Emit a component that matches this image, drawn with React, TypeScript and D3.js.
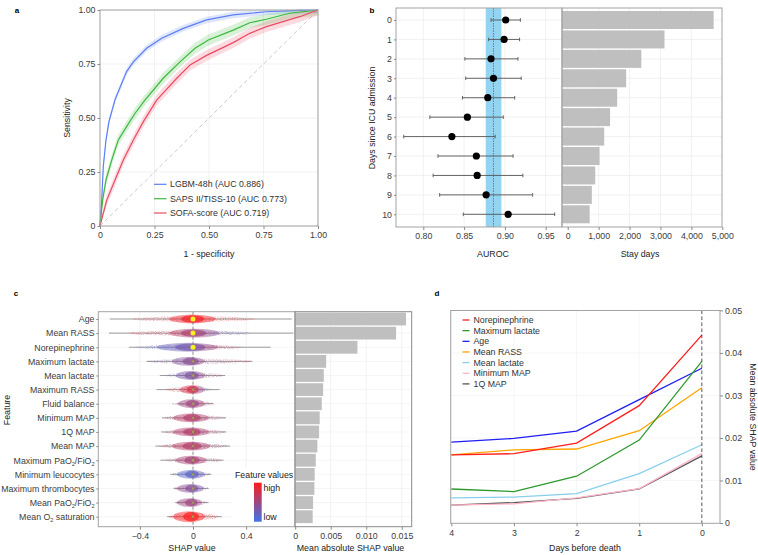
import { useEffect, useRef } from 'react';
import * as d3 from 'd3';

// ---- a: ROC curves (1 - specificity / sensitivity) ----
const lgbmFpr = [0, 0.008, 0.015, 0.0275, 0.041, 0.069, 0.122, 0.153, 0.214, 0.283, 0.382, 0.489, 0.611, 0.763, 0.916, 1];
const lgbmTpr = [0, 0.12, 0.275, 0.398, 0.483, 0.585, 0.715, 0.76, 0.823, 0.869, 0.915, 0.954, 0.977, 0.992, 0.998, 1];
const sapsFpr = [0, 0.012, 0.0275, 0.054, 0.084, 0.122, 0.161, 0.206, 0.29, 0.367, 0.436, 0.497, 0.611, 0.687, 0.763, 0.87, 1];
const sapsTpr = [0, 0.12, 0.213, 0.306, 0.398, 0.46, 0.522, 0.583, 0.684, 0.76, 0.823, 0.861, 0.907, 0.941, 0.957, 0.985, 1];
const sofaFpr = [0, 0.031, 0.069, 0.107, 0.153, 0.199, 0.26, 0.352, 0.413, 0.489, 0.611, 0.687, 0.763, 0.916, 1];
const sofaTpr = [0, 0.12, 0.213, 0.306, 0.398, 0.483, 0.583, 0.684, 0.745, 0.79, 0.849, 0.892, 0.923, 0.969, 1];
const rocNames = ['LGBM-48h (AUC 0.886)', 'SAPS II/TISS-10 (AUC 0.773)', 'SOFA-score (AUC 0.719)'];
const rocBand = [0.015, 0.025, 0.025];

// ---- b: AUROC per day since admission + stay days ----
const admitDays = [0, 1, 2, 3, 4, 5, 6, 7, 8, 9, 10];
const aurocMean = [0.901, 0.899, 0.883, 0.886, 0.879, 0.854, 0.835, 0.865, 0.866, 0.877, 0.904];
const aurocLow = [0.883, 0.880, 0.851, 0.852, 0.848, 0.808, 0.776, 0.818, 0.812, 0.820, 0.849];
const aurocHigh = [0.919, 0.918, 0.916, 0.920, 0.912, 0.898, 0.888, 0.910, 0.922, 0.934, 0.961];
const overallAuroc = [0.8765, 0.886, 0.8957]; // low, estimate, high
const stayDays = [4720, 3130, 2380, 1890, 1600, 1370, 1180, 1030, 890, 780, 710];

// ---- c: SHAP summary ----
const features = ['Age', 'Mean RASS', 'Norepinephrine', 'Maximum lactate', 'Mean lactate', 'Maximum RASS',
  'Fluid balance', 'Minimum MAP', '1Q MAP', 'Mean MAP', 'Maximum PaO2/FiO2', 'Minimum leucocytes',
  'Maximum thrombocytes', 'Mean PaO2/FiO2', 'Mean O2 saturation'];
const meanAbsShap = [0.0156, 0.0142, 0.00876, 0.00436, 0.00402, 0.00393, 0.00374, 0.00345, 0.00336, 0.00312,
  0.00289, 0.00274, 0.0027, 0.00251, 0.00246];
const shapMin = [-0.626, -0.633, -0.483, -0.35, -0.25, -0.275, -0.12, -0.233, -0.24, -0.283, -0.245, -0.17, -0.146, -0.133, -0.195];
const shapMax = [0.743, 0.755, 0.585, 0.447, 0.242, 0.2, 0.155, 0.248, 0.25, 0.28, 0.23, 0.137, 0.117, 0.117, 0.218];
const tailLo = [-0.458, -0.483, -0.433, -0.345, -0.208, -0.208, -0.158, -0.22, -0.22, -0.258, -0.208, -0.158, -0.146, -0.133, -0.183];
const tailHi = [0.468, 0.443, 0.368, 0.443, 0.23, 0.143, 0.155, 0.242, 0.242, 0.267, 0.218, 0.13, 0.117, 0.105, 0.192];
const coreLo = [-0.18, -0.18, -0.27, -0.16, -0.13, -0.1, -0.11, -0.15, -0.15, -0.16, -0.13, -0.12, -0.12, -0.12, -0.15];
const coreHi = [0.17, 0.2, 0.19, 0.09, 0.09, 0.09, 0.09, 0.12, 0.12, 0.13, 0.1, 0.09, 0.08, 0.07, 0.09];
// normalised feature value on the negative side, at zero and on the positive side (0 = low, 1 = high)
const toneLeft = [0.75, 0.9, 0.1, 0.3, 0.25, 0.85, 0.5, 0.65, 0.65, 0.7, 0.55, 0.15, 0.5, 0.5, 0.95];
const toneMid = [0.95, 0.55, 0.3, 0.4, 0.35, 0.75, 0.5, 0.6, 0.6, 0.6, 0.55, 0.15, 0.35, 0.5, 1];
const toneRight = [0.95, 0.1, 0.85, 0.75, 0.6, 0.15, 0.55, 0.55, 0.55, 0.55, 0.6, 0.3, 0.25, 0.5, 0.95];

// ---- d: mean |SHAP| before death ----
const daysBeforeDeath = [4, 3, 2, 1, 0];
const trendNames = ['Norepinephrine', 'Maximum lactate', 'Age', 'Mean RASS', 'Mean lactate', 'Minimum MAP', '1Q MAP'];
const norepinephrine = [0.016, 0.0163, 0.0188, 0.0276, 0.0442];
const maximumLactate = [0.008, 0.0074, 0.011, 0.0195, 0.038];
const age = [0.019, 0.0199, 0.0216, 0.029, 0.0364];
const meanRass = [0.016, 0.0172, 0.0174, 0.0217, 0.0318];
const meanLactate = [0.0059, 0.0061, 0.0069, 0.0116, 0.0184];
const minimumMap = [0.0042, 0.0045, 0.0059, 0.0081, 0.0163];
const q1Map = [0.0042, 0.0048, 0.0058, 0.008, 0.0158];

const FONT = "'Liberation Sans', Arial, Helvetica, sans-serif";

const App = () => {
  const ref = useRef<SVGSVGElement>(null);

  useEffect(() => {
    const svg = d3.select(ref.current);
    svg.selectAll('*').remove();

    const frameCol = '#a3a3a3';
    const gridCol = '#ededed';
    const tickCol = '#3c3c3c';
    const fs = 8.8;

    const txt = (x, y, s, anchor = 'middle', size = fs, col = '#222', weight = 'normal') =>
      svg.append('text').attr('x', x).attr('y', y).attr('text-anchor', anchor)
        .attr('font-family', FONT).attr('font-size', size).attr('fill', col).attr('font-weight', weight).text(s);
    const vtxt = (x, y, s, rot = -90) =>
      svg.append('text').attr('transform', `translate(${x},${y}) rotate(${rot})`).attr('text-anchor', 'middle')
        .attr('dy', '0.35em').attr('font-family', FONT).attr('font-size', fs).attr('fill', '#222').text(s);
    const frame = (x0, y0, x1, y1, col = frameCol) =>
      svg.append('rect').attr('x', x0).attr('y', y0).attr('width', x1 - x0).attr('height', y1 - y0)
        .attr('fill', 'none').attr('stroke', col).attr('stroke-width', 1);
    const styleAxis = (g) => {
      g.attr('font-family', FONT).attr('font-size', fs);
      g.select('.domain').remove();
      g.selectAll('line').attr('stroke', '#8a8a8a');
      g.selectAll('text').attr('fill', tickCol);
    };
    const vgrid = (scale, ticks, y0, y1, col = gridCol) => ticks.forEach(t => svg.append('line')
      .attr('x1', scale(t)).attr('x2', scale(t)).attr('y1', y0).attr('y2', y1).attr('stroke', col).attr('stroke-width', 0.8));
    const hgrid = (ys, x0, x1, col = gridCol) => ys.forEach(y => svg.append('line')
      .attr('x1', x0).attr('x2', x1).attr('y1', y).attr('y2', y).attr('stroke', col).attr('stroke-width', 0.8));

    // panel letters
    txt(17, 13, 'a', 'middle', 8, '#000', 'bold');
    txt(372, 13, 'b', 'middle', 8, '#000', 'bold');
    txt(16, 296, 'c', 'middle', 8, '#000', 'bold');
    txt(437, 296, 'd', 'middle', 8, '#000', 'bold');

    // ================= a =================
    const ax = d3.scaleLinear().domain([0, 1]).range([100, 318]);
    const ay = d3.scaleLinear().domain([0, 1]).range([226, 10]);
    const rocTicks = [0, 0.25, 0.5, 0.75, 1];
    const rocFmt = d => (d === 0 ? '0' : d3.format('.2f')(d));
    vgrid(ax, rocTicks, 10, 226);
    hgrid(rocTicks.map(ay), 100, 318);
    svg.append('line').attr('x1', ax(0)).attr('y1', ay(0)).attr('x2', ax(1)).attr('y2', ay(1))
      .attr('stroke', '#c9c9c9').attr('stroke-width', 1).attr('stroke-dasharray', '4,3');

    const rocSets = [[lgbmFpr, lgbmTpr], [sapsFpr, sapsTpr], [sofaFpr, sofaTpr]];
    const rocCols = ['#5b7ff2', '#3db83d', '#ea4b63'];
    rocSets.forEach(([fpr, tpr], k) => {
      const pts = fpr.map((f, i) => ({ f, t: tpr[i] }));
      const band = rocBand[k];
      svg.append('path').datum(pts)
        .attr('d', d3.area().x(d => ax(d.f)).y0(d => ay(Math.max(0, d.t - band))).y1(d => ay(Math.min(1, d.t + band))))
        .attr('fill', rocCols[k]).attr('fill-opacity', 0.2);
    });
    rocSets.forEach(([fpr, tpr], k) => {
      const pts = fpr.map((f, i) => ({ f, t: tpr[i] }));
      svg.append('path').datum(pts).attr('d', d3.line().x(d => ax(d.f)).y(d => ay(d.t)))
        .attr('fill', 'none').attr('stroke', rocCols[k]).attr('stroke-width', 1.2);
    });
    frame(100, 10, 318, 226);
    svg.append('g').attr('transform', 'translate(0,226)')
      .call(d3.axisBottom(ax).tickValues(rocTicks).tickFormat(rocFmt).tickSize(3).tickPadding(3)).call(styleAxis);
    svg.append('g').attr('transform', 'translate(100,0)')
      .call(d3.axisLeft(ay).tickValues(rocTicks).tickFormat(rocFmt).tickSize(2.5).tickPadding(2)).call(styleAxis);
    txt(209, 257, '1 - specificity');
    vtxt(67, 118, 'Sensitivity');
    const legY = [184.3, 198.7, 213];
    rocNames.forEach((n, k) => {
      svg.append('line').attr('x1', 154).attr('x2', 166.5).attr('y1', legY[k]).attr('y2', legY[k])
        .attr('stroke', rocCols[k]).attr('stroke-width', 1.2);
      txt(170, legY[k] + 3, n, 'start', fs, '#333');
    });

    // ================= b =================
    const bx = d3.scaleLinear().domain([0.7665, 0.97]).range([396, 562]);
    const by = d3.scalePoint().domain(admitDays.map(String)).range([20, 214.3]);
    const sx = d3.scaleLinear().domain([-185, 4990]).range([562, 722]);
    const bTop = 8, bBot = 227;
    vgrid(bx, [0.8, 0.85, 0.9, 0.95], bTop, bBot);
    vgrid(sx, [0, 1000, 2000, 3000, 4000], bTop, bBot);
    hgrid(admitDays.map(d => by(String(d))), 396, 722);
    svg.append('rect').attr('x', bx(overallAuroc[0])).attr('y', bTop)
      .attr('width', bx(overallAuroc[2]) - bx(overallAuroc[0])).attr('height', bBot - bTop)
      .attr('fill', '#93d4f0');
    svg.append('line').attr('x1', bx(overallAuroc[1])).attr('x2', bx(overallAuroc[1])).attr('y1', bTop).attr('y2', bBot)
      .attr('stroke', '#6a7780').attr('stroke-width', 0.9).attr('stroke-dasharray', '1.5,1');
    admitDays.forEach((d, i) => {
      const y = by(String(d));
      const g = svg.append('g').attr('stroke', '#555').attr('stroke-width', 0.9);
      g.append('line').attr('x1', bx(aurocLow[i])).attr('x2', bx(aurocHigh[i])).attr('y1', y).attr('y2', y);
      g.append('line').attr('x1', bx(aurocLow[i])).attr('x2', bx(aurocLow[i])).attr('y1', y - 1.8).attr('y2', y + 1.8);
      g.append('line').attr('x1', bx(aurocHigh[i])).attr('x2', bx(aurocHigh[i])).attr('y1', y - 1.8).attr('y2', y + 1.8);
      svg.append('circle').attr('cx', bx(aurocMean[i])).attr('cy', y).attr('r', 3.6).attr('fill', '#000');
      svg.append('rect').attr('x', 562).attr('y', y - 9).attr('width', sx(stayDays[i]) - 562).attr('height', 18)
        .attr('fill', '#bfbfbf');
    });
    frame(396, bTop, 562, bBot);
    frame(562, bTop, 722, bBot);
    svg.append('g').attr('transform', `translate(0,${bBot})`)
      .call(d3.axisBottom(bx).tickValues([0.8, 0.85, 0.9, 0.95]).tickFormat(d3.format('.2f')).tickSize(3).tickPadding(3)).call(styleAxis);
    svg.append('g').attr('transform', `translate(0,${bBot})`)
      .call(d3.axisBottom(sx).tickValues([0, 1000, 2000, 3000, 4000, 5000]).tickFormat(d3.format(',')).tickSize(3).tickPadding(3)).call(styleAxis);
    svg.append('g').attr('transform', 'translate(396,0)')
      .call(d3.axisLeft(by).tickSize(2).tickPadding(2)).call(styleAxis);
    txt(493, 257, 'AUROC');
    txt(640, 257, 'Stay days');
    vtxt(372, 118, 'Days since ICU admission');

    // ================= c =================
    const cx = d3.scaleLinear().domain([-0.713, 0.768]).range([98.3, 295]);
    const cy = d3.scalePoint().domain(features).range([319, 516.7]);
    const mx = d3.scaleLinear().domain([-0.00003, 0.0164]).range([295, 411.7]);
    const cTop = 311.7, cBot = 526.7;
    const tone = d3.scaleLinear<string>().domain([0, 1]).range(['#3f74e6', '#ff1a1a']).interpolate(d3.interpolateRgb);
    vgrid(cx, [-0.4, 0, 0.4], cTop, cBot);
    vgrid(mx, [0.005, 0.01, 0.015], cTop, cBot);
    hgrid(features.map(f => cy(f)), 98.3, 411.7, '#f3f3f3');

    const defs = svg.append('defs');
    // grainy texture so the swarm reads as a cloud of many small points
    const speckle = defs.append('filter').attr('id', 'speckle').attr('x', 0).attr('y', 0).attr('width', 1).attr('height', 1);
    speckle.append('feTurbulence').attr('type', 'fractalNoise').attr('baseFrequency', 1.1).attr('numOctaves', 1).attr('seed', 3).attr('result', 'noise');
    speckle.append('feColorMatrix').attr('in', 'noise').attr('type', 'matrix')
      .attr('values', '0 0 0 0 0  0 0 0 0 0  0 0 0 0 0  0 0 0 -3 1.9').attr('result', 'mask');
    speckle.append('feComposite').attr('in', 'SourceGraphic').attr('in2', 'mask').attr('operator', 'in');

    features.forEach((f, i) => {
      const y = cy(f);
      svg.append('line').attr('x1', cx(shapMin[i])).attr('x2', cx(shapMax[i])).attr('y1', y).attr('y2', y)
        .attr('stroke', '#6f6f6f').attr('stroke-width', 0.8).attr('stroke-opacity', 0.85);
      const gid = `swarm${i}`;
      const lg = defs.append('linearGradient').attr('id', gid).attr('gradientUnits', 'userSpaceOnUse')
        .attr('x1', cx(tailLo[i])).attr('x2', cx(tailHi[i])).attr('y1', 0).attr('y2', 0);
      const zeroAt = (0 - tailLo[i]) / (tailHi[i] - tailLo[i]);
      lg.append('stop').attr('offset', 0).attr('stop-color', tone(toneLeft[i]));
      lg.append('stop').attr('offset', zeroAt).attr('stop-color', tone(toneMid[i]));
      lg.append('stop').attr('offset', 1).attr('stop-color', tone(toneRight[i]));
      const h = i === features.length - 1 ? 5.5 : 4.4;
      const sw = svg.append('g');
      // sparse outer tail
      sw.append('ellipse').attr('cx', (cx(tailLo[i]) + cx(tailHi[i])) / 2).attr('cy', y)
        .attr('rx', (cx(tailHi[i]) - cx(tailLo[i])) / 2).attr('ry', h * 0.6)
        .attr('fill', `url(#${gid})`).attr('fill-opacity', 0.38).attr('filter', 'url(#speckle)');
      // dense core
      sw.append('ellipse').attr('cx', (cx(coreLo[i]) + cx(coreHi[i])) / 2).attr('cy', y)
        .attr('rx', (cx(coreHi[i]) - cx(coreLo[i])) / 2).attr('ry', h)
        .attr('fill', `url(#${gid})`).attr('fill-opacity', 0.45);
      sw.append('ellipse').attr('cx', (cx(coreLo[i] * 0.5) + cx(coreHi[i] * 0.5)) / 2).attr('cy', y)
        .attr('rx', (cx(coreHi[i] * 0.5) - cx(coreLo[i] * 0.5)) / 2).attr('ry', h * 0.85)
        .attr('fill', `url(#${gid})`).attr('fill-opacity', 0.7);
      svg.append('rect').attr('x', mx(0)).attr('y', y - 6.4).attr('width', mx(meanAbsShap[i]) - mx(0)).attr('height', 12.8)
        .attr('fill', '#bfbfbf');
    });
    svg.append('line').attr('x1', cx(0)).attr('x2', cx(0)).attr('y1', cTop).attr('y2', cBot)
      .attr('stroke', '#666').attr('stroke-width', 0.7).attr('stroke-dasharray', '3,2');
    features.forEach((f, i) => {
      const big = i < 3;
      svg.append('circle').attr('cx', cx(0)).attr('cy', cy(f)).attr('r', big ? 2.5 : 1.2)
        .attr('fill', big ? '#f5f020' : '#a8a040');
    });
    // feature value legend
    svg.append('rect').attr('x', 232).attr('y', 467).attr('width', 61).attr('height', 57).attr('fill', '#fff');
    txt(235, 478, 'Feature values', 'start', fs, '#222');
    const lgv = defs.append('linearGradient').attr('id', 'fvGrad').attr('x1', 0).attr('x2', 0).attr('y1', 0).attr('y2', 1);
    [1, 0.5, 0].forEach((t, k) => lgv.append('stop').attr('offset', k / 2).attr('stop-color', tone(t)));
    svg.append('rect').attr('x', 254).attr('y', 482.7).attr('width', 7.7).attr('height', 39).attr('fill', 'url(#fvGrad)');
    txt(263.5, 491, 'high', 'start', fs, '#222');
    txt(263.5, 519.5, 'low', 'start', fs, '#222');

    frame(98.3, cTop, 295, cBot);
    frame(295, cTop, 411.7, cBot, '#8a8a8a');
    svg.append('g').attr('transform', `translate(0,${cBot})`)
      .call(d3.axisBottom(cx).tickValues([-0.4, 0, 0.4]).tickFormat(d => (d === 0 ? '0' : d3.format('.1f')(d))).tickSize(3).tickPadding(3))
      .call(styleAxis);
    svg.append('g').attr('transform', `translate(0,${cBot})`)
      .call(d3.axisBottom(mx).tickValues([0, 0.005, 0.01, 0.015]).tickFormat(d => (d === 0 ? '0' : d3.format('.3f')(d))).tickSize(3).tickPadding(3))
      .call(styleAxis);
    const cyAxis = svg.append('g').attr('transform', 'translate(98.3,0)')
      .call(d3.axisLeft(cy).tickSize(2).tickPadding(1.8)).call(styleAxis);
    // PaO2/FiO2 and O2 with subscripts
    cyAxis.selectAll('text').each(function (d) {
      const s = d as string;
      const el = d3.select(this);
      const subs = s.includes('PaO2/FiO2') ? ['PaO', '2', '/FiO', '2'] : s.includes('O2 ') ? ['Mean O', '2', ' saturation'] : null;
      if (!subs) return;
      el.text(null);
      const pre = s.startsWith('Maximum') ? 'Maximum ' : s.startsWith('Mean PaO2') ? 'Mean ' : '';
      subs.forEach((p, k) => {
        const isSub = p === '2';
        el.append('tspan').text(k === 0 ? pre + p : p)
          .attr('font-size', isSub ? 5.5 : fs).attr('baseline-shift', isSub ? '-25%' : '0');
      });
    });
    txt(192, 551, 'SHAP value');
    txt(350.5, 551, 'Mean absolute SHAP value');
    vtxt(7, 410, 'Feature');

    // ================= d =================
    const dx = d3.scaleLinear().domain([4.01, -0.29]).range([450.7, 720]);
    const dy = d3.scaleLinear().domain([0, 0.05]).range([523, 310.4]);
    const dTop = 310.5, dBot = 523.3;
    vgrid(dx, daysBeforeDeath, dTop, dBot, '#f4f4f4');
    hgrid([0.01, 0.02, 0.03, 0.04].map(dy), 450.7, 720, '#f4f4f4');
    const trendSeries = [norepinephrine, maximumLactate, age, meanRass, meanLactate, minimumMap, q1Map];
    const trendCols = ['#ff1f1f', '#2e9a2e', '#1f1ff5', '#ffa500', '#87cfec', '#ffb6c8', '#565656'];
    const dline = d3.line<number>().x((_, i) => dx(daysBeforeDeath[i])).y(v => dy(v));
    // draw in reverse so the first-listed series sits on top
    trendSeries.slice().reverse().forEach((vals, r) => {
      const k = trendSeries.length - 1 - r;
      svg.append('path').datum(vals).attr('d', dline).attr('fill', 'none')
        .attr('stroke', trendCols[k]).attr('stroke-width', 1.3);
    });
    svg.append('line').attr('x1', dx(0)).attr('x2', dx(0)).attr('y1', dTop).attr('y2', dBot)
      .attr('stroke', '#333').attr('stroke-width', 0.8).attr('stroke-dasharray', '3.5,2.5');
    frame(450.7, dTop, 720, dBot);
    svg.append('g').attr('transform', `translate(0,${dBot})`)
      .call(d3.axisBottom(dx).tickValues(daysBeforeDeath).tickFormat(d3.format('d')).tickSize(3).tickPadding(3)).call(styleAxis);
    svg.append('g').attr('transform', 'translate(720,0)')
      .call(d3.axisRight(dy).tickValues([0, 0.01, 0.02, 0.03, 0.04, 0.05]).tickFormat(d => (d === 0 ? '0' : d3.format('.2f')(d))).tickSize(3).tickPadding(2))
      .call(styleAxis);
    txt(585, 551, 'Days before death');
    vtxt(753, 417, 'Mean absolute SHAP value', 90);
    trendNames.forEach((n, k) => {
      const y = 320 + k * 10.65;
      svg.append('line').attr('x1', 462.5).attr('x2', 469.5).attr('y1', y).attr('y2', y)
        .attr('stroke', trendCols[k]).attr('stroke-width', 1.3);
      txt(473.5, y + 3, n, 'start', fs, '#333');
    });
  }, []);

  return (
    <div style={{ position: 'absolute', left: 0, top: 0 }}>
      <svg ref={ref} width={758} height={555} style={{ display: 'block', background: '#fff' }} />
    </div>
  );
};

export default App;
